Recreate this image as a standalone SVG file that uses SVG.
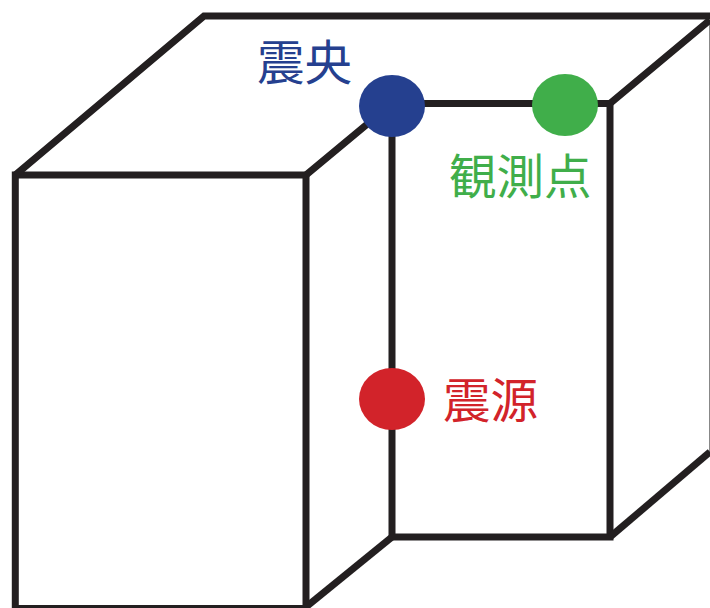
<svg xmlns="http://www.w3.org/2000/svg" width="710" height="608" viewBox="0 0 710 608">
<style>
.l{fill:none;stroke:#231f20;stroke-width:7;stroke-linejoin:miter}
.t{font-family:"Noto Sans CJK JP","Noto Sans CJK SC",sans-serif;font-size:47.500px}
</style>
<rect width="710" height="608" fill="#fff"/>
<g id="connectors">
<path d="M709.500 20V452" fill="none" stroke="#888" stroke-width="1"/>
<path class="l" d="M15.300 175H306V608.500H15.300Z"/>
<path class="l" d="M15.300 175L204 16H710"/>
<path class="l" d="M306 175L392 103.500H610L710 20"/>
<path class="l" d="M392 103.500V537H610V103.500"/>
<path class="l" d="M306 607L392 537"/>
<path class="l" d="M610 537L710 452"/>
</g>
<g id="epicenter"><ellipse cx="392" cy="106" rx="33" ry="31" fill="#25408f"/><text class="t" x="257" y="80" fill="#25408f">震央</text></g>
<g id="observation"><ellipse cx="565" cy="105" rx="33" ry="31" fill="#40ae4a"/><text class="t" x="449" y="194" fill="#40ae4a">観測点</text></g>
<g id="hypocenter"><ellipse cx="392" cy="399" rx="33" ry="31" fill="#d2232a"/><text class="t" x="443" y="418" fill="#d2232a">震源</text></g>
</svg>
